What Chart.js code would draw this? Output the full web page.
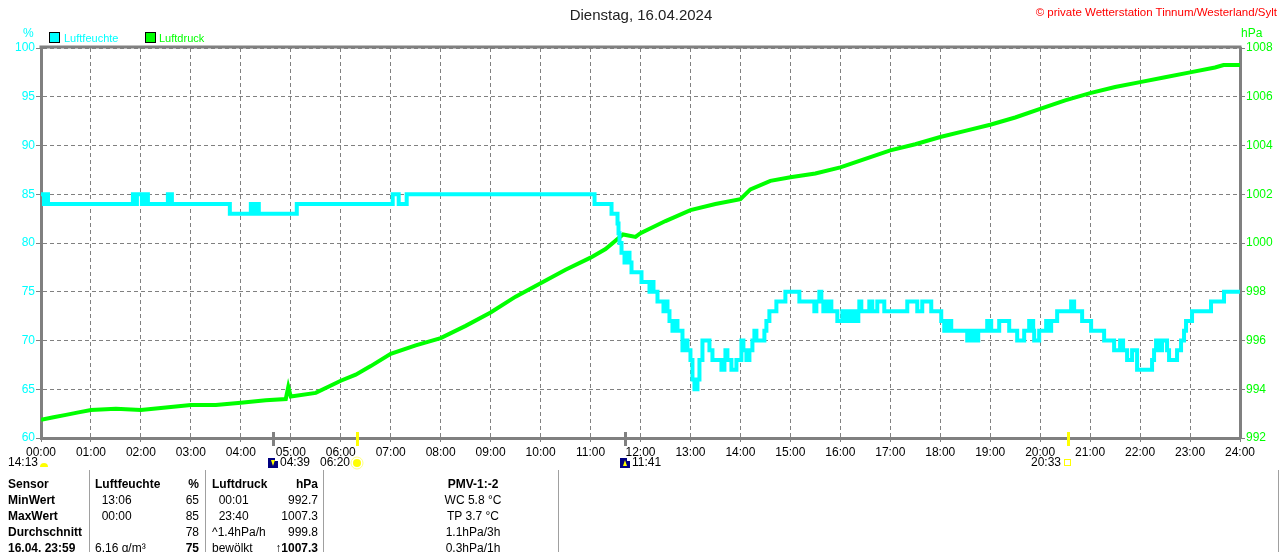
<!DOCTYPE html>
<html>
<head>
<meta charset="utf-8">
<script src="https://cdn.jsdelivr.net/npm/chart.js@4"></script>
<style>
body { margin: 0; background: #fff; font-family: "Liberation Sans", Arial, sans-serif; }
#wrap { position: relative; width: 1280px; height: 552px; overflow: hidden; }
#c { position: absolute; left: 0; top: 0; }
.t { position: absolute; white-space: nowrap; font-size: 12px; line-height: 14px; color: #000; }
.b { font-weight: bold; }
.r { text-align: right; }
.sep { position: absolute; top: 470px; width: 1px; height: 82px; background: #a0a0a0; }
.box { position: absolute; width: 9px; height: 9px; border: 1px solid #000; }
</style>
</head>
<body>
<div id="wrap">
<canvas id="c" width="1280" height="552"></canvas>

<div class="t" style="left:0;width:1282px;top:6px;text-align:center;font-size:15px;line-height:18px;color:#222">Dienstag, 16.04.2024</div>
<div class="t" style="right:3px;top:5px;font-size:11.5px;color:#ff0000">© private Wetterstation Tinnum/Westerland/Sylt</div>

<div class="t" style="left:23px;top:26px;color:#00ffff">%</div>
<div class="t" style="left:1241px;top:26px;color:#00ff00">hPa</div>

<div class="box" style="left:49px;top:32px;background:#00ffff"></div>
<div class="t" style="left:64px;top:31px;font-size:11px;color:#00ffff">Luftfeuchte</div>
<div class="box" style="left:145px;top:32px;background:#00ff00"></div>
<div class="t" style="left:159px;top:31px;font-size:11px;color:#00ff00">Luftdruck</div>

<div class="sep" style="left:89px"></div>
<div class="sep" style="left:205px"></div>
<div class="sep" style="left:323px"></div>
<div class="sep" style="left:558px"></div>
<div class="sep" style="left:1278px"></div>
<div id="tbl"></div>
</div>

<script>
// Luftfeuchte (%), Stufenwerte: ab Stunde humTimes[i] gilt humValues[i]
const humTimes = [0, 0.06, 0.08, 0.14, 1.84, 1.9, 1.92, 2.02, 2.06, 2.14, 2.54, 2.62,
  3.78, 4.2, 4.28, 4.32, 4.36, 5.12, 7.04, 7.16, 7.32,
  11.08, 11.42, 11.54, 11.56, 11.58, 11.62, 11.68, 11.74, 11.78, 11.82, 12.02, 12.18, 12.22, 12.26,
  12.34, 12.46, 12.52, 12.54, 12.58, 12.64, 12.7, 12.74, 12.84, 12.9, 12.94, 13.0, 13.04, 13.08,
  13.14, 13.18, 13.24, 13.38, 13.44, 13.62, 13.68, 13.7, 13.74, 13.82, 13.92, 14.02, 14.06, 14.12,
  14.18, 14.24, 14.28, 14.32, 14.48, 14.52, 14.58, 14.72, 14.9, 15.18, 15.48, 15.52, 15.58, 15.62,
  15.66, 15.72, 15.76, 15.8, 15.82, 15.94, 16.04, 16.08, 16.16, 16.2, 16.28, 16.32, 16.36, 16.38,
  16.42, 16.58, 16.64, 16.74, 16.88, 17.34, 17.54, 17.64, 17.82, 18.02, 18.08, 18.14, 18.22, 18.54,
  18.62, 18.68, 18.76, 18.94, 19.02, 19.18, 19.38, 19.54, 19.68, 19.78, 19.86, 19.88, 19.98, 20.12,
  20.18, 20.22, 20.34, 20.62, 20.68, 20.84, 21.02, 21.28, 21.48, 21.6, 21.66, 21.74, 21.84, 21.94,
  22.24, 22.28, 22.32, 22.38, 22.44, 22.54, 22.58, 22.74, 22.82, 22.88, 22.92, 23.04, 23.42, 23.68, 24];
const humValues = [85, 84, 85, 84, 85, 84, 85, 84, 85, 84, 85, 84,
  83, 84, 83, 84, 83, 84, 85, 84, 85,
  84, 83, 82, 81, 80, 79, 78, 79, 78, 77, 76, 75, 76, 75,
  74, 73, 74, 73, 72, 71, 72, 71, 69, 70, 69, 68, 66, 65,
  66, 68, 70, 69, 68, 67, 68, 69, 68, 67, 68, 70, 69, 68,
  69, 70, 71, 70, 71, 72, 73, 74, 75, 74, 73, 74, 75, 74,
  73, 74, 73, 74, 73, 72, 73, 72, 73, 72, 73, 72, 73, 74,
  73, 74, 73, 74, 73, 74, 73, 74, 73, 72, 71, 72, 71, 70,
  71, 70, 71, 72, 71, 72, 71, 70, 71, 72, 71, 70, 71, 72,
  71, 72, 73, 74, 73, 72, 71, 70, 69, 70, 69, 68, 69, 67,
  68, 69, 70, 69, 70, 69, 68, 69, 70, 71, 72, 73, 74, 75, 75];

// Luftdruck (hPa)
const presTimes = [0, 0.25, 0.5, 0.75, 1, 1.5, 2, 2.5, 3, 3.5, 4, 4.5, 4.9, 4.95, 5, 5.5, 6, 6.3, 6.6,
  7, 7.5, 8, 8.5, 9, 9.5, 10, 10.5, 11, 11.3, 11.65, 11.9, 12, 12.5, 13, 13.5, 14, 14.2, 14.6, 15,
  15.5, 16, 16.5, 17, 17.5, 18, 18.5, 19, 19.5, 20, 20.5, 21, 21.5, 22, 22.5, 23, 23.5, 23.67, 24];
const presValues = [992.75, 992.85, 992.95, 993.05, 993.15, 993.2, 993.15, 993.25, 993.35, 993.35,
  993.45, 993.55, 993.6, 994.1, 993.7, 993.85, 994.35, 994.6, 994.95,
  995.45, 995.8, 996.1, 996.6, 997.15, 997.8, 998.35, 998.9, 999.4, 999.75, 1000.35, 1000.25, 1000.4,
  1000.9, 1001.35, 1001.6, 1001.8, 1002.2, 1002.55, 1002.7,
  1002.85, 1003.1, 1003.45, 1003.8, 1004.05, 1004.35, 1004.6, 1004.85, 1005.15, 1005.5, 1005.85,
  1006.15, 1006.4, 1006.6, 1006.8, 1007.0, 1007.2, 1007.3, 1007.3];

// Sonne / Mond unter der Zeitachse
const sunTimes = ['06:20', '20:33'];
const moonTimes = ['04:39', '11:41'];
const prevLabel = '14:13';

// Tabelle unten
const tblRows = [
  ['Sensor', 'Luftfeuchte', '%', 'Luftdruck', 'hPa', 'PMV-1:-2'],
  ['MinWert', '  13:06', '65', '  00:01', '992.7', 'WC 5.8 °C'],
  ['MaxWert', '  00:00', '85', '  23:40', '1007.3', 'TP 3.7 °C'],
  ['Durchschnitt', '', '78', '^1.4hPa/h', '999.8', '1.1hPa/3h'],
  ['16.04. 23:59', '6.16 g/m³', '75', 'bewölkt', '\u21911007.3', '0.3hPa/1h']
];

let html = '';
tblRows.forEach((row, i) => {
  const y = 477 + i * 16;
  const hdr = i === 0;
  const last = i === tblRows.length - 1;
  html += `<div class="t b" style="left:8px;top:${y}px">${row[0]}</div>`;
  html += `<div class="t${hdr ? ' b' : ''}" style="left:95px;top:${y}px;white-space:pre">${row[1]}</div>`;
  html += `<div class="t r${hdr || last ? ' b' : ''}" style="right:${1280 - 199}px;top:${y}px">${row[2]}</div>`;
  html += `<div class="t${hdr ? ' b' : ''}" style="left:212px;top:${y}px;white-space:pre">${row[3]}</div>`;
  html += `<div class="t r${hdr || last ? ' b' : ''}" style="right:${1280 - 318}px;top:${y}px">${row[4]}</div>`;
  html += `<div class="t${hdr ? ' b' : ''}" style="left:373px;width:200px;text-align:center;top:${y}px">${row[5]}</div>`;
});
document.getElementById('tbl').innerHTML = html;

function hrs(s) {
  const p = s.split(':');
  return +p[0] + p[1] / 60;
}

const extras = {
  id: 'extras',
  afterDraw(chart) {
    const ctx = chart.ctx, a = chart.chartArea, x = chart.scales.x;
    ctx.save();
    // oberer Rahmen
    ctx.strokeStyle = '#808080';
    ctx.lineWidth = 3;
    ctx.beginPath();
    ctx.moveTo(a.left - 1.5, a.top - 1);
    ctx.lineTo(a.right + 1.5, a.top - 1);
    ctx.stroke();

    ctx.font = '12px "Liberation Sans", Arial, sans-serif';
    ctx.textBaseline = 'middle';
    ctx.fillStyle = '#000';

    // Mond
    moonTimes.forEach((s, i) => {
      const px = Math.round(x.getPixelForValue(hrs(s)));
      ctx.fillStyle = '#808080';
      ctx.fillRect(px - 1, 432, 3, 14);
      ctx.fillStyle = '#000080';
      ctx.fillRect(px - 5, 458, 10, 10);
      ctx.fillStyle = '#ffff00';
      ctx.beginPath();
      if (i === 0) { ctx.moveTo(px - 2, 460); ctx.lineTo(px + 2, 460); ctx.lineTo(px, 466); }
      else { ctx.moveTo(px - 2, 466); ctx.lineTo(px + 2, 466); ctx.lineTo(px, 460); }
      ctx.fill();
      ctx.fillStyle = '#fff';
      ctx.fillRect(px + 2, 458, 3, 3);
      ctx.fillStyle = '#000';
      ctx.textAlign = 'left';
      ctx.fillText(s, px + 7, 463);
    });

    // Sonne
    sunTimes.forEach((s, i) => {
      const px = Math.round(x.getPixelForValue(hrs(s)));
      ctx.fillStyle = '#ffff00';
      ctx.fillRect(px - 1, 432, 3, 14);
      if (i === 0) {
        ctx.beginPath();
        ctx.arc(px, 463, 4, 0, Math.PI * 2);
        ctx.fill();
        ctx.strokeStyle = '#ffff80';
        ctx.lineWidth = 1;
        ctx.beginPath();
        ctx.arc(px, 463, 6, 0, Math.PI * 2);
        ctx.stroke();
      } else {
        ctx.strokeStyle = '#ffff00';
        ctx.lineWidth = 1;
        ctx.strokeRect(px - 3.5, 459.5, 6, 6);
      }
      ctx.fillStyle = '#000';
      ctx.textAlign = 'right';
      ctx.fillText(s, px - 7, 463);
    });

    // Vortag
    const p0 = x.getPixelForValue(0);
    ctx.fillStyle = '#000';
    ctx.textAlign = 'right';
    ctx.fillText(prevLabel, p0 - 3, 463);
    ctx.fillStyle = '#ffff00';
    ctx.beginPath();
    ctx.arc(p0 + 3, 467, 4, Math.PI, 0);
    ctx.fill();
    ctx.restore();
  }
};

const ctx = document.getElementById('c').getContext('2d');
const chart = new Chart(ctx, {
  type: 'line',
  data: {
    datasets: [{
      label: 'Luftfeuchte',
      data: humTimes.map((t, i) => ({ x: t, y: humValues[i] })),
      borderColor: '#00ffff',
      backgroundColor: '#00ffff',
      borderWidth: 4,
      stepped: true,
      pointRadius: 0,
      yAxisID: 'y'
    }, {
      label: 'Luftdruck',
      data: presTimes.map((t, i) => ({ x: t, y: presValues[i] })),
      borderColor: '#00ff00',
      backgroundColor: '#00ff00',
      borderWidth: 4,
      pointRadius: 0,
      yAxisID: 'y2'
    }]
  },
  options: {
    responsive: false,
    animation: false,
    layout: { padding: { top: 48, left: 0, right: 0, bottom: 0 } },
    plugins: { legend: { display: false }, tooltip: { enabled: false } },
    font: { family: '"Liberation Sans", Arial, sans-serif', size: 12 },
    scales: {
      x: {
        type: 'linear', min: 0, max: 24,
        afterFit: s => { s.height = 114; },
        ticks: {
          stepSize: 1, autoSkip: false, maxRotation: 0, color: '#000', padding: 3,
          font: { family: '"Liberation Sans", Arial, sans-serif', size: 12 },
          callback: v => String(v).padStart(2, '0') + ':00'
        },
        grid: { color: '#808080', tickLength: 4, tickColor: '#808080' },
        border: { color: '#808080', width: 3, dash: [4, 3] }
      },
      y: {
        position: 'left', min: 60, max: 100,
        afterFit: s => { s.width = 41; },
        ticks: {
          stepSize: 5, color: '#00ffff', padding: 1,
          font: { family: '"Liberation Sans", Arial, sans-serif', size: 12 },
          callback: v => String(v)
        },
        grid: { color: '#808080', tickLength: 5, tickColor: '#808080' },
        border: { color: '#808080', width: 3, dash: [4, 3] }
      },
      y2: {
        position: 'right', min: 992, max: 1008,
        afterFit: s => { s.width = 40; },
        ticks: {
          stepSize: 2, color: '#00ff00', padding: 1,
          font: { family: '"Liberation Sans", Arial, sans-serif', size: 12 },
          callback: v => String(v)
        },
        grid: { drawOnChartArea: false, tickLength: 5, tickColor: '#808080' },
        border: { color: '#808080', width: 3 }
      }
    }
  },
  plugins: [extras]
});
</script>
</body>
</html>
